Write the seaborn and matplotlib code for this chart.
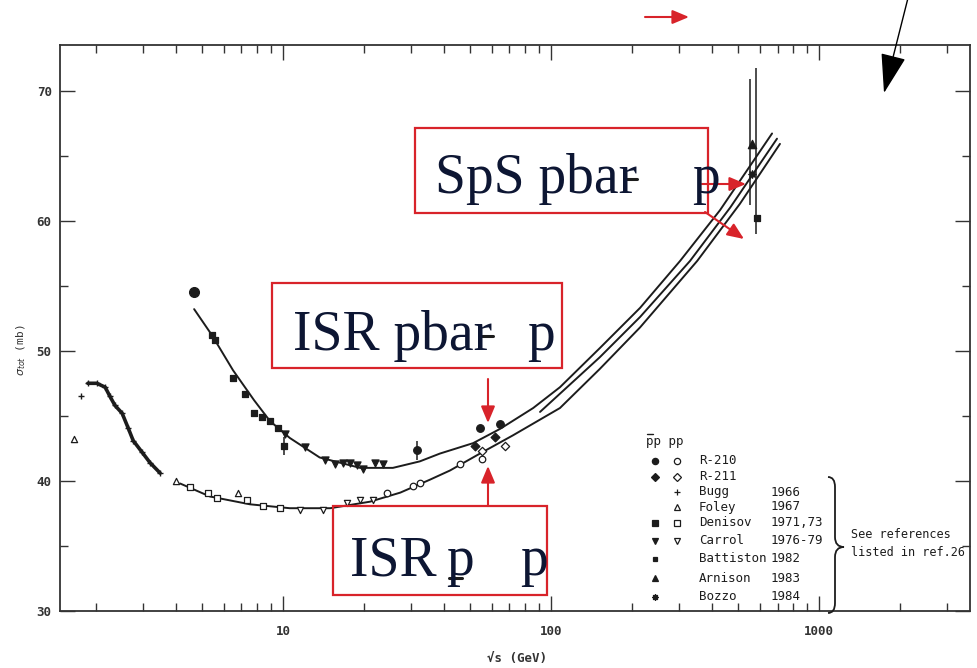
import matplotlib
matplotlib.use("Agg")
import matplotlib.pyplot as plt
import seaborn as sns
from matplotlib.path import Path
from matplotlib.patches import PathPatch, Rectangle, FancyArrowPatch

# ---- fitted curves (sqrt(s) in GeV, sigma_tot in mb) ----
fit_pbar_s = [4.66, 5.43, 6.51, 7.80, 8.94, 10.6, 13.7, 19.4, 25.7, 32.4, 38.5,
              51.2, 64.6, 85.8, 108, 152, 215, 303, 427, 668]
fit_pbar_sig = [53.2, 51.2, 48.5, 46.2, 44.6, 43.3, 41.8, 41.0, 41.0, 41.5, 42.1,
                42.9, 44.0, 45.6, 47.2, 50.2, 53.3, 56.9, 60.8, 66.7]
fit_pp_s = [4.13, 5.34, 7.53, 10.6, 15.0, 21.1, 27.4, 35.4, 42.0, 54.3, 72.1,
            108, 152, 215, 351, 507, 715]
fit_pp_sig = [39.8, 38.8, 38.2, 37.9, 37.9, 38.4, 39.1, 40.1, 40.8, 42.1, 43.5,
              45.6, 48.6, 51.8, 56.9, 61.3, 65.9]
fit_mid_s = [91.0, 152, 215, 330, 466, 697]
fit_mid_sig = [45.3, 49.5, 52.6, 56.9, 61.0, 66.3]

# ---- pbar p data ----
r210_pbar_s = [31.6, 54.3, 64.6]
r210_pbar_sig = [42.4, 44.1, 44.4]
r211_pbar_s = [52.0, 61.8]
r211_pbar_sig = [42.7, 43.4]
den_pbar_s = [4.66, 5.43, 5.58, 6.51, 7.21, 7.80, 8.35, 8.94, 9.58, 10.1]
den_pbar_sig = [54.5, 51.2, 50.8, 47.9, 46.7, 45.2, 44.9, 44.6, 44.1, 42.7]
car_pbar_s = [10.2, 12.1, 14.4, 15.6, 16.7, 17.8, 18.9, 19.9, 22.0, 23.6]
car_pbar_sig = [43.6, 42.6, 41.6, 41.3, 41.4, 41.4, 41.2, 40.9, 41.4, 41.3]
battiston_s = [587]
battiston_sig = [60.2]
arnison_s = [562]
arnison_sig = [65.9]
bozzo_s = [562]
bozzo_sig = [63.6]

# ---- pp data ----
r210_pp_s = [24.4, 30.5, 32.4, 45.7, 55.3]
r210_pp_sig = [39.1, 39.6, 39.8, 41.3, 41.7]
r211_pp_s = [55.3, 67.3]
r211_pp_sig = [42.3, 42.7]
bugg_s = [1.76, 1.87, 2.02, 2.17, 2.26, 2.36, 2.51, 2.64, 2.76, 2.98, 3.19, 3.48]
bugg_sig = [46.5, 47.5, 47.5, 47.2, 46.5, 45.8, 45.2, 44.1, 43.1, 42.2, 41.4, 40.6]
foley_s = [1.66, 3.99, 6.79]
foley_sig = [43.2, 40.0, 39.1]
den_pp_s = [4.50, 5.25, 5.68, 7.35, 8.42, 9.75]
den_pp_sig = [39.5, 39.1, 38.7, 38.5, 38.1, 37.9]
car_pp_s = [11.6, 14.1, 17.3, 19.4, 21.7]
car_pp_sig = [37.8, 37.8, 38.3, 38.5, 38.5]

# ---- error bars ----
err_s = [31.6, 10.1, 555, 582]
err_lo = [41.6, 42.0, 61.2, 59.0]
err_hi = [43.1, 43.4, 70.9, 71.7]

# ---- legend rows ----
leg_names = ["R-210", "R-211", "Bugg", "Foley", "Denisov", "Carrol",
             "Battiston", "Arnison", "Bozzo"]
leg_years = ["", "", "1966", "1967", "1971,73", "1976-79", "1982", "1983", "1984"]
leg_pbar = [("o", True), ("D", True), None, None, ("s", True), ("v", True),
            ("s", True), ("^", True), ((8, 1, 0), True)]
leg_pp = [("o", False), ("D", False), ("+", True), ("^", False), ("s", False),
          ("v", False), None, None, None]

W, H = 978, 668
INK = "#1c1c1c"
RED = "#d8232a"


def fp(x, y):
    return x / W, 1 - y / H


sns.set_style("ticks")
plt.rcParams["font.family"] = ["DejaVu Sans Mono", "DejaVu Sans"]

fig = plt.figure(figsize=(W / 100, H / 100), dpi=100)
ax = fig.add_axes([60 / W, 1 - 611 / H, 910 / W, 566 / H])
ax.set_xscale("log")
ax.set_xlim(1.472, 3659)
ax.set_ylim(30, 73.5)

# fitted curves
for xs, ys in [(fit_pbar_s, fit_pbar_sig), (fit_pp_s, fit_pp_sig), (fit_mid_s, fit_mid_sig)]:
    sns.lineplot(x=xs, y=ys, sort=False, estimator=None, color=INK, lw=1.4, ax=ax)

# dense Bugg chain
sns.lineplot(x=bugg_s[1:], y=bugg_sig[1:], sort=False, estimator=None, color=INK, lw=2.6, ax=ax)


def pts(xs, ys, marker, filled, size):
    if marker == "+":
        ax.scatter(xs, ys, marker="+", s=size, color=INK, linewidths=1.0, zorder=5)
    else:
        sns.scatterplot(x=xs, y=ys, marker=marker, s=size, ax=ax, zorder=5,
                        color=INK if filled else "white", edgecolor=INK, linewidth=0.9)


pts(r210_pbar_s, r210_pbar_sig, "o", True, 30)
pts(r211_pbar_s, r211_pbar_sig, "D", True, 20)
pts(den_pbar_s, den_pbar_sig, "s", True, 24)
pts(den_pbar_s[:1], den_pbar_sig[:1], "o", True, 50)
pts(car_pbar_s, car_pbar_sig, "v", True, 26)
pts(battiston_s, battiston_sig, "s", True, 14)
pts(arnison_s, arnison_sig, "^", True, 36)
pts(bozzo_s, bozzo_sig, (8, 1, 0), True, 30)
pts(r210_pp_s, r210_pp_sig, "o", False, 22)
pts(r211_pp_s, r211_pp_sig, "D", False, 18)
pts(bugg_s, bugg_sig, "+", True, 22)
pts(foley_s, foley_sig, "^", False, 20)
pts(den_pp_s, den_pp_sig, "s", False, 20)
pts(car_pp_s, car_pp_sig, "v", False, 20)
ax.vlines(err_s, err_lo, err_hi, color=INK, lw=1.1, zorder=4)

# axes styling
ax.set_yticks([30, 40, 50, 60, 70])
ax.set_yticks([35, 45, 55, 65], minor=True)
ax.set_xticks([10, 100, 1000])
ax.set_xticklabels(["10", "100", "1000"])
ax.xaxis.set_minor_formatter(matplotlib.ticker.NullFormatter())
ax.tick_params(which="both", direction="in", top=True, right=True, color="#333333",
               width=1.0, labelsize=9, labelcolor="#333333")
ax.tick_params(which="major", length=11)
ax.tick_params(which="minor", length=6)
ax.tick_params(axis="x", pad=10)
ax.tick_params(axis="y", pad=6)
for lab in ax.get_xticklabels() + ax.get_yticklabels():
    lab.set_fontweight("bold")
for sp in ax.spines.values():
    sp.set_color("#333333")
    sp.set_linewidth(1.3)
ax.set_xlabel("√s (GeV)", fontsize=9, fontweight="bold", color="#333333")
ax.set_ylabel(r"$\sigma_{tot}$ (mb)", fontsize=8, color="#333333")
ax.xaxis.set_label_coords(0.502, -0.072)
ax.yaxis.set_label_coords(-0.035, 0.46)

# legend drawn inside the frame
fig.text(*fp(646, 442), "pp pp", fontsize=9, color=INK, va="center", ha="left")
fig.add_artist(matplotlib.lines.Line2D([647 / W, 653 / W], [1 - 434 / H, 1 - 434 / H],
                                       transform=fig.transFigure, color=INK, lw=1.0))
rows_y = [461, 477, 492, 507, 523, 541, 559, 578, 597]
for i, y in enumerate(rows_y):
    for spec, xcol in [(leg_pbar[i], 655), (leg_pp[i], 677)]:
        if spec is None:
            continue
        m, filled = spec
        ms = 4.5 if m != "D" else 3.8
        if i == 6:
            ms = 3
        ax.plot(*[[v] for v in fp(xcol, y)], marker=m, ms=ms, transform=fig.transFigure,
                clip_on=False, ls="none", mfc=INK if filled else "white", mec=INK, mew=0.9,
                color=INK)
    fig.text(*fp(699, y), leg_names[i], fontsize=9, color=INK, va="center", ha="left")
    fig.text(*fp(771, y), leg_years[i], fontsize=9, color=INK, va="center", ha="left")

# curly brace
bx, btip_x, ytop, ybot, ytip = 835, 844, 477, 613, 547
verts = [fp(bx - 7, ytop), fp(bx, ytop), fp(bx, ytop + 10),
         fp(bx, ytip - 10), fp(bx, ytip), fp(btip_x, ytip),
         fp(bx, ytip), fp(bx, ytip + 10),
         fp(bx, ybot - 10), fp(bx, ybot), fp(bx - 7, ybot)]
codes = [Path.MOVETO, Path.CURVE3, Path.CURVE3, Path.LINETO, Path.CURVE3, Path.CURVE3,
         Path.CURVE3, Path.CURVE3, Path.LINETO, Path.CURVE3, Path.CURVE3]
fig.add_artist(PathPatch(Path(verts, codes), transform=fig.transFigure, fill=False,
                         ec=INK, lw=1.3))
fig.text(*fp(851, 535), "See references", fontsize=8.5, color=INK, va="center", ha="left")
fig.text(*fp(851, 552), "listed in ref.26", fontsize=8.5, color=INK, va="center", ha="left")

# red annotation boxes
serif = ["Liberation Serif", "DejaVu Serif"]
TXT = "#0d1633"
for x0, y0, x1, y1 in [(415, 128, 708, 213), (272, 283, 562, 368), (333, 506, 547, 595)]:
    fig.add_artist(Rectangle(fp(x0, y1), (x1 - x0) / W, (y1 - y0) / H, transform=fig.transFigure,
                             fill=False, ec=RED, lw=1.6))
for x, y, s in [(435, 193, "SpS pbar"), (692, 193, "p"), (293, 350, "ISR pbar"), (527, 350, "p"),
                (350, 575, "ISR"), (446, 575, "p"), (520, 575, "p")]:
    fig.text(*fp(x, y), s, fontsize=40, family=serif, color=TXT, va="baseline", ha="left")
for x0, x1, y in [(626, 637, 179), (482, 493, 336), (449, 462, 578)]:
    fig.add_artist(matplotlib.lines.Line2D([x0 / W, x1 / W], [1 - y / H, 1 - y / H],
                                           transform=fig.transFigure, color=INK, lw=2.2))

# arrows
for a, b in [((702, 184), (746, 184)), ((705, 212), (744, 239)), ((488, 379), (488, 423)),
             ((488, 506), (488, 466)), ((645, 17), (689, 17))]:
    fig.add_artist(FancyArrowPatch(fp(*a), fp(*b), transform=fig.transFigure,
                                   arrowstyle="-|>,head_length=1.0,head_width=0.42",
                                   mutation_scale=10, color=RED, lw=1.5,
                                   shrinkA=0, shrinkB=0))
fig.add_artist(FancyArrowPatch(fp(908, -2), fp(884, 93), transform=fig.transFigure,
                               arrowstyle="-|>,head_length=2.5,head_width=0.8",
                               mutation_scale=10, color="black", lw=1.0,
                               shrinkA=0, shrinkB=0))

fig.savefig("out.png", dpi=100)
